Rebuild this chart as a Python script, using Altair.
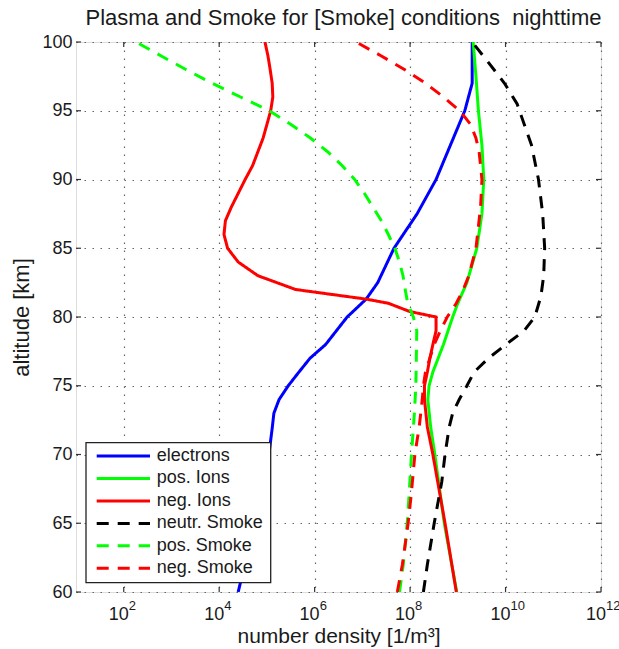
import altair as alt
import pandas as pd

# ---------------- data ----------------
series_names = ["electrons", "pos. Ions", "neg. Ions", "neutr. Smoke", "pos. Smoke", "neg. Smoke"]
series_colors = ["#0000ff", "#00ff00", "#ff0000", "#000000", "#00ff00", "#ff0000"]
series_dash = [[1, 0], [1, 0], [1, 0], [12, 9], [12, 9], [12, 9]]

alt_electrons = [100, 97, 95, 92.5, 90, 87.5, 85, 82.5, 81.3, 80, 78, 77, 76, 75, 74, 73, 72, 70, 65, 60]
n_electrons = [2.0e9, 2.0e9, 1.4e9, 7.0e8, 3.5e8, 1.4e8, 4.6e7, 2.1e7, 1.2e7, 4.8e6, 1.7e6, 8.0e5,
               4.7e5, 2.8e5, 1.8e5, 1.4e5, 1.3e5, 1.1e5, 5.6e4, 2.5e4]

alt_pos_ions = [100, 97.5, 95, 92.5, 90, 87.5, 85, 82.5, 81, 80, 78, 76, 75, 74, 72, 70, 65, 60]
n_pos_ions = [2.1e9, 2.4e9, 2.7e9, 3.2e9, 3.5e9, 3.2e9, 2.5e9, 1.55e9, 1.0e9, 7.8e8, 5.0e8, 3.0e8,
              2.5e8, 2.35e8, 2.7e8, 3.3e8, 5.2e8, 9.5e8]

alt_neg_ions = [100, 99, 98, 97, 96, 95, 94, 93, 91, 90, 88, 87, 86, 85, 84, 83, 82, 81.3, 81, 80.4, 80,
                79, 78, 77, 76, 75, 74, 72, 70, 65, 60]
n_neg_ions = [9.1e4, 1.05e5, 1.17e5, 1.29e5, 1.33e5, 1.2e5, 1.0e5, 8.3e4, 5.0e4, 3.5e4, 1.8e4, 1.35e4,
              1.26e4, 1.5e4, 2.5e4, 6.5e4, 4.0e5, 1.2e7, 3.5e7, 9.8e7, 3.5e8, 3.5e8, 3.0e8, 2.6e8,
              2.3e8, 2.0e8, 2.0e8, 2.3e8, 3.0e8, 5.4e8, 9.3e8]

alt_neutr_smoke = [100, 98.5, 97, 95.5, 94.5, 92.5, 90, 87.5, 85, 83, 81.5, 80, 79, 78, 77, 76, 75, 74,
                   73, 72, 70, 68, 65, 62, 60]
n_neutr_smoke = [2.0e9, 4.4e9, 9.5e9, 1.75e10, 2.2e10, 3.5e10, 4.9e10, 6.0e10, 6.6e10, 6.3e10, 5.5e10,
                 4.1e10, 2.45e10, 1.02e10, 4.4e9, 2.2e9, 1.55e9, 1.07e9, 7.8e8, 6.6e8, 5.4e8, 4.6e8,
                 3.2e8, 2.3e8, 1.9e8]

alt_pos_smoke = [100, 99, 98, 97, 96, 95, 94, 93, 92, 91, 90, 89, 88, 87, 86, 85, 84, 83, 82, 81, 80,
                 79, 77, 75, 73, 70, 67, 65, 62, 60]
n_pos_smoke = [1.8e2, 6.0e2, 2.0e3, 7.1e3, 2.8e4, 1.12e5, 3.2e5, 8.3e5, 1.9e6, 3.8e6, 6.9e6, 1.1e7,
               1.66e7, 2.5e7, 3.5e7, 4.8e7, 6.0e7, 7.1e7, 7.9e7, 8.9e7, 1.17e8, 1.38e8, 1.35e8,
               1.32e8, 1.23e8, 1.07e8, 9.5e7, 8.7e7, 7.2e7, 6.0e7]

alt_neg_smoke = [100, 99, 98, 97, 96, 95, 94, 93, 92, 90, 88, 85, 83, 82, 81, 80, 79, 78, 76, 75, 74,
                 72, 70, 67, 65, 62, 60]
n_neg_smoke = [7.4e6, 2.45e7, 7.6e7, 2.1e8, 5.0e8, 1.1e9, 1.86e9, 2.4e9, 2.8e9, 3.2e9, 3.0e9, 2.4e9,
               1.7e9, 1.3e9, 9.3e8, 6.0e8, 4.3e8, 3.2e8, 2.1e8, 1.9e8, 1.8e8, 1.55e8, 1.26e8,
               1.05e8, 9.1e7, 6.9e7, 5.4e7]

x_ticks = [1e2, 1e4, 1e6, 1e8, 1e10, 1e12]
x_tick_exps = ["2", "4", "6", "8", "10", "12"]
y_ticks = [60, 65, 70, 75, 80, 85, 90, 95, 100]

title_text = "Plasma and Smoke for [Smoke] conditions\u00a0 nighttime"
FONT = "Liberation Sans"
TXT = "#1a1a1a"
W, H = 525, 550

# ---------------- tables ----------------
all_alts = [alt_electrons, alt_pos_ions, alt_neg_ions, alt_neutr_smoke, alt_pos_smoke, alt_neg_smoke]
all_vals = [n_electrons, n_pos_ions, n_neg_ions, n_neutr_smoke, n_pos_smoke, n_neg_smoke]
rows = []
for name, a_list, v_list in zip(series_names, all_alts, all_vals):
    for a, v in zip(a_list, v_list):
        rows.append({"series": name, "alt": a, "n": v})
df = pd.DataFrame(rows)
xt = pd.DataFrame({"v": x_ticks, "e": x_tick_exps})
yt = pd.DataFrame({"v": y_ticks})
leg_df = pd.DataFrame({"series": series_names})
box_df = pd.DataFrame({"k": [0]})

xscale = alt.Scale(type="log", domain=[1e1, 1e12], nice=False)
yscale = alt.Scale(domain=[60, 100], nice=False, zero=False)
cscale = alt.Scale(domain=series_names, range=series_colors)
dscale = alt.Scale(domain=series_names, range=series_dash)

lines = alt.Chart(df).mark_line(strokeWidth=3, clip=True).encode(
    x=alt.X("n:Q", scale=xscale,
            axis=alt.Axis(values=x_ticks, labels=False, ticks=False, domain=False, grid=True,
                          gridColor="#666666", gridDash=[1.5, 6.5], gridWidth=1.2,
                          title="number density [1/m³]", titleFont=FONT, titleFontSize=21,
                          titleFontWeight="normal", titleColor=TXT, titlePadding=33)),
    y=alt.Y("alt:Q", scale=yscale,
            axis=alt.Axis(values=y_ticks, ticks=False, domain=False, grid=True,
                          gridColor="#666666", gridDash=[1.5, 6.5], gridWidth=1.2,
                          labelFont=FONT, labelFontSize=18, labelColor=TXT, labelPadding=4,
                          title="altitude [km]", titleFont=FONT, titleFontSize=22,
                          titleFontWeight="normal", titleColor=TXT, titlePadding=8)),
    color=alt.Color("series:N", scale=cscale, legend=None),
    strokeDash=alt.StrokeDash("series:N", scale=dscale, legend=None),
    order=alt.Order("alt:Q"),
)

# inward tick marks on all four sides
tick_style = dict(color="#333333", strokeWidth=1.2)
xt_bottom = alt.Chart(xt).mark_rule(**tick_style).encode(x=alt.X("v:Q", scale=xscale), y=alt.value(H), y2=alt.value(H - 5))
xt_top = alt.Chart(xt).mark_rule(**tick_style).encode(x=alt.X("v:Q", scale=xscale), y=alt.value(0), y2=alt.value(5))
yt_left = alt.Chart(yt).mark_rule(**tick_style).encode(y=alt.Y("v:Q", scale=yscale), x=alt.value(0), x2=alt.value(5))
yt_right = alt.Chart(yt).mark_rule(**tick_style).encode(y=alt.Y("v:Q", scale=yscale), x=alt.value(W), x2=alt.value(W - 5))

# x tick labels 10^k
lab_base = alt.Chart(xt).mark_text(font=FONT, fontSize=18, align="right", baseline="alphabetic",
                                   dx=5, color=TXT).encode(
    x=alt.X("v:Q", scale=xscale), y=alt.value(H + 28), text=alt.value("10"))
lab_exp = alt.Chart(xt).mark_text(font=FONT, fontSize=13, align="left", baseline="alphabetic",
                                  dx=5, color=TXT).encode(
    x=alt.X("v:Q", scale=xscale), y=alt.value(H + 18), text="e:N")

plot = alt.layer(lines, xt_bottom, xt_top, yt_left, yt_right, lab_base, lab_exp)

# legend box (inside the axes, lower left)
leg_y = alt.Scale(type="point", domain=series_names, range=[414, 526.3], padding=0)
leg_box = alt.Chart(box_df).mark_rect(fill="white", stroke="#222222", strokeWidth=1.3).encode(
    x=alt.value(10), x2=alt.value(194.7), y=alt.value(400.7), y2=alt.value(540.7))
leg_lines = alt.Chart(leg_df).mark_rule(strokeWidth=3).encode(
    x=alt.value(20.7), x2=alt.value(74),
    y=alt.Y("series:N", scale=leg_y, axis=None),
    color=alt.Color("series:N", scale=cscale, legend=None),
    strokeDash=alt.StrokeDash("series:N", scale=dscale, legend=None),
)
leg_text = alt.Chart(leg_df).mark_text(font=FONT, fontSize=18, align="left", baseline="middle",
                                       color=TXT).encode(
    x=alt.value(80.7), y=alt.Y("series:N", scale=leg_y, axis=None), text="series:N")
leg = alt.layer(leg_box, leg_lines, leg_text)

chart = alt.layer(plot, leg).resolve_scale(y="independent").properties(
    width=W, height=H,
    title=alt.TitleParams(title_text, font=FONT, fontSize=22, fontWeight="normal", color=TXT,
                          offset=3, dx=5),
    padding={"left": 76, "top": 42, "right": 18, "bottom": 57},
    autosize=alt.AutoSizeParams(type="none"),
).configure_view(stroke="#333333", strokeWidth=1.6).configure(background="white")

chart.save("out.html", embed_options={"renderer": "svg", "actions": False})
